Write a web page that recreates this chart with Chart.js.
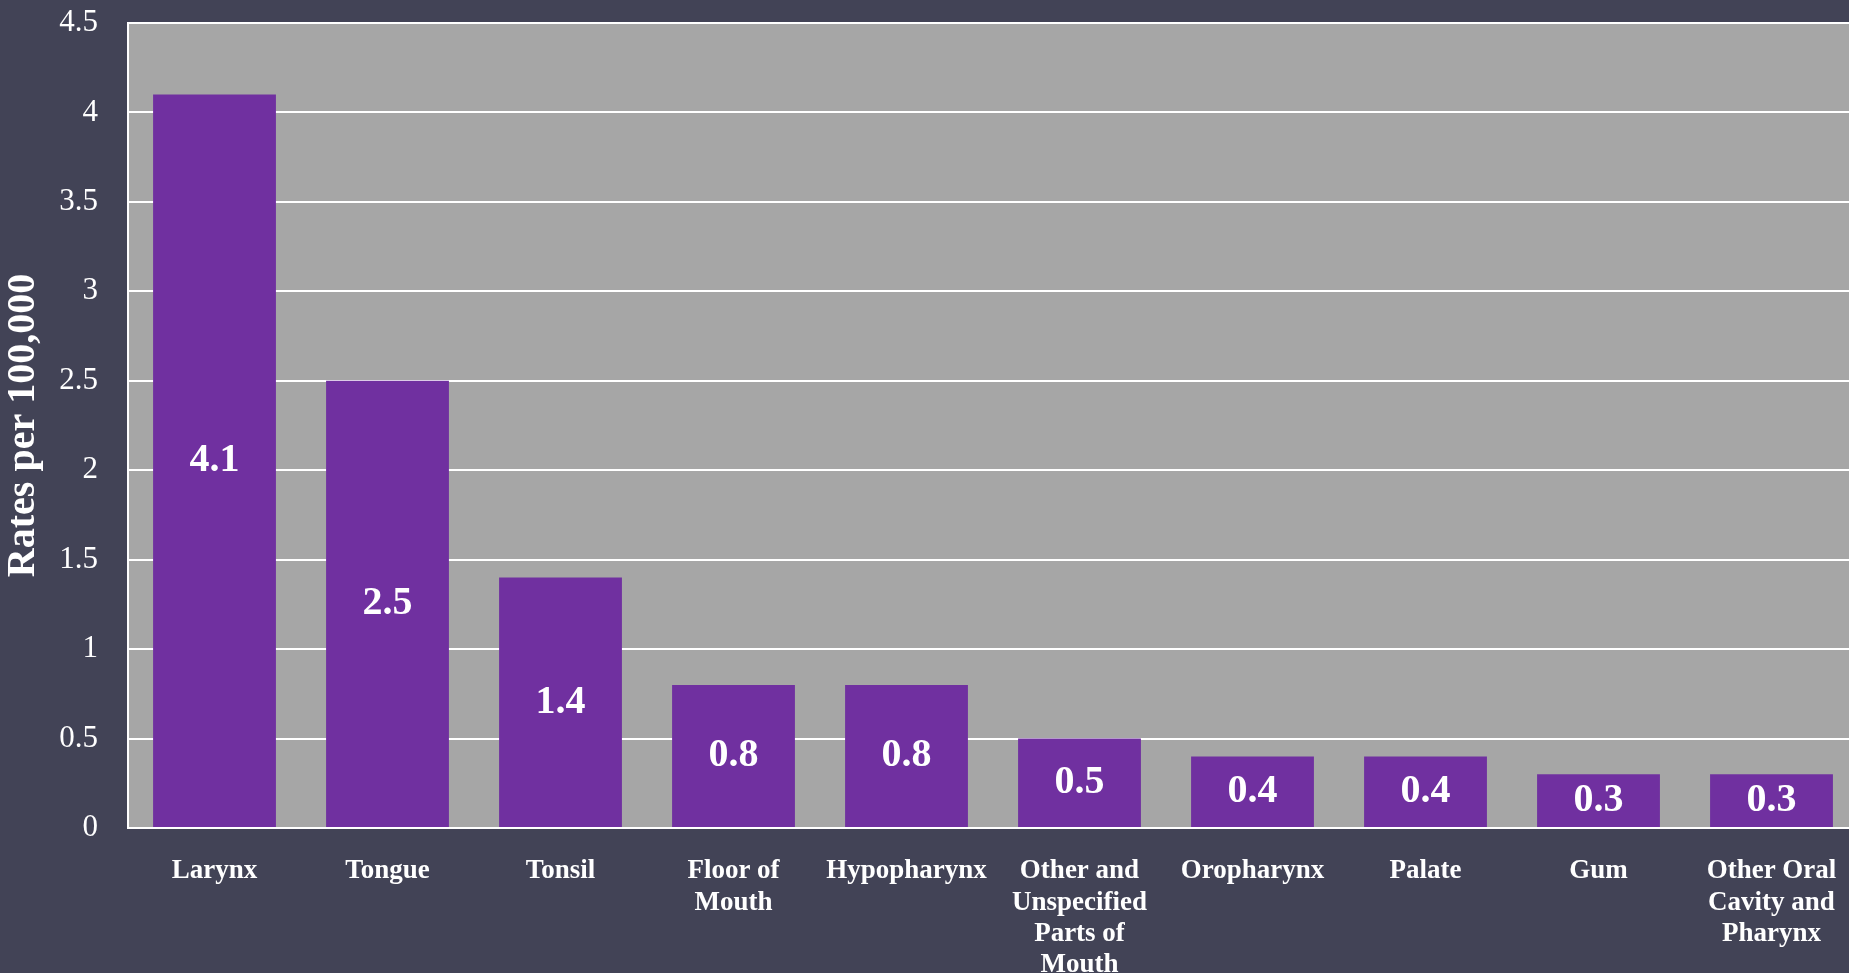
<!DOCTYPE html>
<html>
<head>
<meta charset="utf-8">
<title>Rates per 100,000</title>
<script src="https://cdn.jsdelivr.net/npm/chart.js@4/dist/chart.umd.min.js"></script>
<style>
    html, body {
        margin: 0;
        padding: 0;
        overflow: hidden;
        background: #424356;
    }
    #rateChart {
        display: block;
    }
</style>
</head>
<body>
<canvas id="rateChart" width="1858" height="973"></canvas>
<script>
// 部位（多行標籤）與發生率
const categories = [
    ['Larynx'],
    ['Tongue'],
    ['Tonsil'],
    ['Floor of', 'Mouth'],
    ['Hypopharynx'],
    ['Other and', 'Unspecified', 'Parts of', 'Mouth'],
    ['Oropharynx'],
    ['Palate'],
    ['Gum'],
    ['Other Oral', 'Cavity and', 'Pharynx']
];
const rates = [4.1, 2.5, 1.4, 0.8, 0.8, 0.5, 0.4, 0.4, 0.3, 0.3];

const yMin = 0;
const yMax = 4.5;
const yStep = 0.5;

const FONT = '"Liberation Serif", "DejaVu Serif", serif';

/**
 * 繪圖區灰色底色
 */
const plotBackground = {
    id: 'plotBackground',
    beforeDraw(chart) {
        const { ctx, chartArea } = chart;
        ctx.save();
        ctx.fillStyle = '#a6a6a6';
        ctx.fillRect(chartArea.left, chartArea.top,
            chartArea.right - chartArea.left, chartArea.bottom - chartArea.top);
        ctx.restore();
    }
};

/**
 * 長條中央顯示數值
 */
const barValues = {
    id: 'barValues',
    afterDatasetsDraw(chart) {
        const { ctx } = chart;
        const meta = chart.getDatasetMeta(0);
        ctx.save();
        ctx.fillStyle = '#ffffff';
        ctx.font = `bold 40px ${FONT}`;
        ctx.textAlign = 'center';
        ctx.textBaseline = 'middle';
        meta.data.forEach((bar, i) => {
            const y = (bar.y + bar.base) / 2;
            ctx.fillText(String(rates[i]), bar.x, y);
        });
        ctx.restore();
    }
};

new Chart(document.getElementById('rateChart'), {
    type: 'bar',
    data: {
        labels: categories,
        datasets: [{
            data: rates,
            backgroundColor: '#7030a0',
            borderWidth: 0,
            barPercentage: 0.71,
            categoryPercentage: 1
        }]
    },
    options: {
        responsive: false,
        animation: false,
        layout: {
            padding: { top: 23, right: 0, bottom: 0, left: 0 }
        },
        scales: {
            x: {
                grid: { display: false },
                border: { display: true, color: '#ffffff', width: 2 },
                ticks: {
                    color: '#ffffff',
                    autoSkip: false,
                    maxRotation: 0,
                    padding: 20,
                    font: { family: FONT, size: 27, weight: 'bold', lineHeight: 1.15 }
                },
                afterFit(scale) {
                    scale.height = 145;
                    scale.paddingLeft = 0;
                    scale.paddingRight = 0;
                }
            },
            y: {
                min: yMin,
                max: yMax,
                grid: {
                    color: '#ffffff',
                    lineWidth: 2,
                    drawTicks: false
                },
                border: { display: true, color: '#ffffff', width: 2 },
                ticks: {
                    stepSize: yStep,
                    color: '#ffffff',
                    padding: 30,
                    font: { family: FONT, size: 31 },
                    callback: value => String(value)
                },
                title: {
                    display: true,
                    text: 'Rates per 100,000',
                    color: '#ffffff',
                    padding: { top: 0, bottom: 0 },
                    font: { family: FONT, size: 40, weight: 'bold' }
                },
                afterFit(scale) {
                    scale.width = 128;
                    scale.paddingTop = 0;
                    scale.paddingBottom = 0;
                }
            }
        },
        plugins: {
            legend: { display: false },
            tooltip: { enabled: false }
        }
    },
    plugins: [plotBackground, barValues]
});
</script>
</body>
</html>
